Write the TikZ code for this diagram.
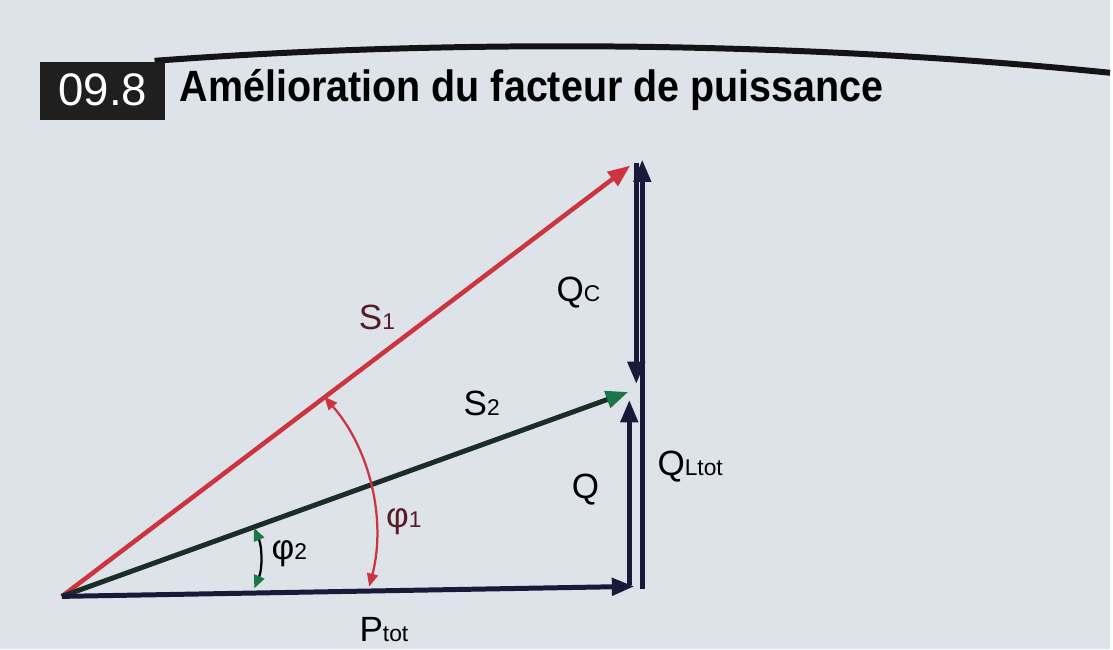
\documentclass[tikz,border=0pt]{standalone}
\usepackage{fontspec}
\setmainfont{Liberation Sans}
\usetikzlibrary{arrows.meta}
\definecolor{paper}{RGB}{222,226,233}
\definecolor{navy}{RGB}{24,26,58}
\definecolor{vred}{RGB}{204,52,64}
\definecolor{dred}{RGB}{88,28,38}
\definecolor{vgreen}{RGB}{28,118,72}
\definecolor{sdark}{RGB}{24,46,38}
\newcommand{\vsub}[1]{{\fontsize{13}{13}\selectfont #1}}
\tikzset{
  vec/.style={line width=1mm,-{Triangle[length=4.5mm,width=3.4mm]}},
  lbl/.style={font=\fontsize{20}{20}\selectfont,inner sep=0pt},
  phiarc/.style={line width=0.45mm,{Triangle[length=2.6mm,width=2.2mm]}-{Triangle[length=2.6mm,width=2.2mm]}}
}
\begin{document}
\begin{tikzpicture}[x=0.2mm,y=0.2mm]
\fill[paper] (0,0) rectangle (1113,651);
% titre
\draw[line width=1.2mm,black!92] (155,590) .. controls (450,612) and (800,610) .. (1113,578);
\fill[black!88] (40,531) rectangle (165,589);
\node (num) at (103,561) [text=white,font=\fontsize{26}{26}\selectfont] {09.8};
\node (titre) at (180,561) [anchor=west,inner sep=0pt,font=\bfseries\fontsize{25}{25}\selectfont] {\scalebox{0.9}[1]{Amélioration du facteur de puissance}};
% diagramme
\coordinate (O) at (62,53);
\coordinate (P) at (636,63);
\coordinate (T) at (644,491);
\coordinate (S1) at (632,485);
\coordinate (S2) at (630,258);
\coordinate (C1) at (168,115.5);
\coordinate (C2) at (183,91);
\draw[vec,vred,line width=0.9mm] (O)--(S1);
\draw[vec,sdark,-{Triangle[length=4.5mm,width=3.4mm,color=vgreen]}] (O)--(S2);
\draw[vec,navy] (O)--(P);
\draw[vec,navy] (644,60)--(T);
\draw[vec,navy] (638,488)--(638,266);
\draw[vec,navy] (631,64)--(631,250);
\draw[phiarc,vred] (C1) ++(-14.6:41.8mm) arc[start angle=-14.6,end angle=41.2,radius=41.8mm];
\draw[phiarc,black,{Triangle[length=2.6mm,width=2.2mm,color=vgreen]}-{Triangle[length=2.6mm,width=2.2mm,color=vgreen]}] (C2) ++(-22.6:15.6mm) arc[start angle=-22.6,end angle=23.2,radius=15.6mm];
\node[lbl,text=dred] (lS1) at (378,333) {S\vsub{1}};
\node[lbl] (lS2) at (483,246) {S\vsub{2}};
\node[lbl] (lQc) at (580,358) {Q\vsub{C}};
\node[lbl] (lQ) at (587,160) {Q};
\node[lbl] (lQL) at (692,183) {Q\vsub{Ltot}};
\node[lbl,text=dred] (lphi1) at (405,128) {φ\vsub{1}};
\node[lbl] (lphi2) at (290,96) {φ\vsub{2}};
\node[lbl] (lP) at (385,20) {P\vsub{tot}};
\end{tikzpicture}
\end{document}
